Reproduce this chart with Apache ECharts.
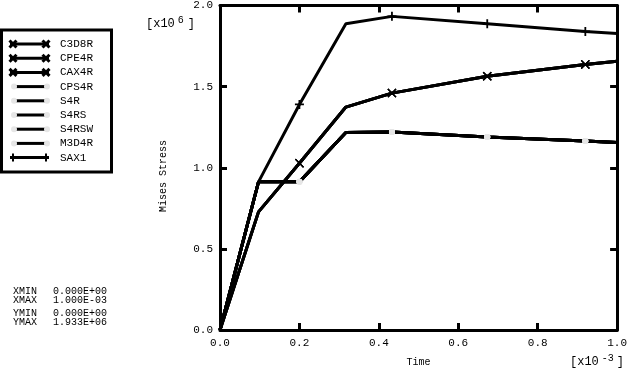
<!DOCTYPE html>
<html><head><meta charset="utf-8">
<script src="https://cdn.jsdelivr.net/npm/echarts@6/dist/echarts.min.js"></script>
<style>html,body{margin:0;padding:0;background:#fff}#c{width:630px;height:373px}</style>
</head><body><div id="c"></div>
<script>
// Time in units of 1e-3, stress in units of 1e6
var timeValues = [0, 0.097, 0.2, 0.317, 0.433, 0.673, 0.92, 1.0];
var sax1Values = [0, 0.913, 1.39, 1.887, 1.933, 1.887, 1.84, 1.827];
var c3d8rValues = [0, 0.728, 1.028, 1.374, 1.46, 1.564, 1.637, 1.657];
var cps4rValues = [0, 0.913, 0.913, 1.217, 1.22, 1.19, 1.165, 1.155];
var markerIndex = [2, 4, 5, 6];
var xGroupNames = ['C3D8R', 'CPE4R', 'CAX4R'];
var circleGroupNames = ['CPS4R', 'S4R', 'S4RS', 'S4RSW', 'M3D4R'];
var plusGroupNames = ['SAX1'];
var statLabels = ['XMIN', 'XMAX', 'YMIN', 'YMAX'];
var statValues = ['0.000E+00', '1.000E-03', '0.000E+00', '1.933E+06'];

var FONT = 'Liberation Mono';
var X_SYM = 'path://M0,1 L1,0 L5,4 L9,0 L10,1 L6,5 L10,9 L9,10 L5,6 L1,10 L0,9 L4,5 Z';
var PLUS_SYM = 'path://M4,0 L6,0 L6,4 L10,4 L10,6 L6,6 L6,10 L4,10 L4,6 L0,6 L0,4 L4,4 Z';

function pairs(vals) {
  return timeValues.map(function (t, i) { return [t, vals[i]]; });
}
function symFn(sym) {
  return function (v, p) { return markerIndex.indexOf(p.dataIndex) >= 0 ? sym : 'none'; };
}
var series = [];
circleGroupNames.forEach(function (n) {
  series.push({ name: n, type: 'line', data: pairs(cps4rValues), symbol: symFn('circle'), symbolSize: 6,
    showAllSymbol: true, lineStyle: { color: '#000', width: 3 }, itemStyle: { color: '#e6e6e6' }, animation: false });
});
xGroupNames.forEach(function (n) {
  series.push({ name: n, type: 'line', data: pairs(c3d8rValues), symbol: symFn(X_SYM), symbolSize: 9,
    showAllSymbol: true, lineStyle: { color: '#000', width: 3 }, itemStyle: { color: '#000' }, animation: false });
});
plusGroupNames.forEach(function (n) {
  series.push({ name: n, type: 'line', data: pairs(sax1Values), symbol: symFn(PLUS_SYM), symbolSize: 9,
    showAllSymbol: true, lineStyle: { color: '#000', width: 3 }, itemStyle: { color: '#000' }, animation: false });
});

// legend drawn as graphics
var legendNames = xGroupNames.concat(circleGroupNames, plusGroupNames);
var graphics = [];
graphics.push({ type: 'rect', shape: { x: 1.5, y: 30, width: 110, height: 142 }, style: { fill: '#fff', stroke: '#000', lineWidth: 3 }, z: 10 });
legendNames.forEach(function (n, i) {
  var y = 44 + i * 14.2;
  var kind = xGroupNames.indexOf(n) >= 0 ? 'x' : (plusGroupNames.indexOf(n) >= 0 ? 'plus' : 'circle');
  if (kind === 'circle') {
    graphics.push({ type: 'line', shape: { x1: 15, y1: y, x2: 45, y2: y }, style: { stroke: '#000', lineWidth: 3 }, z: 11 });
    graphics.push({ type: 'circle', shape: { cx: 14, cy: y, r: 3 }, style: { fill: '#e6e6e6' }, z: 11 });
    graphics.push({ type: 'circle', shape: { cx: 47, cy: y, r: 3 }, style: { fill: '#e6e6e6' }, z: 11 });
  } else {
    graphics.push({ type: 'line', shape: { x1: 10, y1: y, x2: 49, y2: y }, style: { stroke: '#000', lineWidth: 3 }, z: 11 });
    [13, 46].forEach(function (cx) {
      if (kind === 'x') {
        graphics.push({ type: 'line', shape: { x1: cx - 3.5, y1: y - 3.5, x2: cx + 3.5, y2: y + 3.5 }, style: { stroke: '#000', lineWidth: 3 }, z: 11 });
        graphics.push({ type: 'line', shape: { x1: cx - 3.5, y1: y + 3.5, x2: cx + 3.5, y2: y - 3.5 }, style: { stroke: '#000', lineWidth: 3 }, z: 11 });
      } else {
        graphics.push({ type: 'line', shape: { x1: cx, y1: y - 4, x2: cx, y2: y + 4 }, style: { stroke: '#000', lineWidth: 2 }, z: 11 });
      }
    });
  }
  graphics.push({ type: 'text', x: 60, y: y, style: { text: n, font: '11px "' + FONT + '"', fill: '#000', verticalAlign: 'middle' }, z: 11 });
});
statLabels.forEach(function (l, i) {
  var y = [291, 300, 313, 322][i];
  graphics.push({ type: 'text', x: 13, y: y, style: { text: l, font: '10px "' + FONT + '"', fill: '#000', verticalAlign: 'middle' } });
  graphics.push({ type: 'text', x: 53, y: y, style: { text: statValues[i], font: '10px "' + FONT + '"', fill: '#000', verticalAlign: 'middle' } });
});
graphics.push({ type: 'text', x: 146, y: 24, style: { text: '[x10{s|6}]', font: '12px "' + FONT + '"', fill: '#000', verticalAlign: 'middle',
  rich: { s: { fontSize: 10, fontFamily: FONT, verticalAlign: 'top', padding: [0, 4, 8, 3] } } } });
graphics.push({ type: 'text', x: 570, y: 362, style: { text: '[x10{s|-3}]', font: '12px "' + FONT + '"', fill: '#000', verticalAlign: 'middle',
  rich: { s: { fontSize: 10, fontFamily: FONT, verticalAlign: 'top', padding: [0, 3, 8, 3] } } } });
graphics.push({ type: 'text', x: 163, y: 176, rotation: Math.PI / 2, style: { text: 'Mises Stress', font: '10px "' + FONT + '"', fill: '#000', align: 'center', verticalAlign: 'middle' } });

var axisBase = {
  type: 'value', min: 0, splitLine: { show: false },
  axisLine: { show: true, onZero: false, lineStyle: { color: '#000', width: 3 } },
  axisTick: { show: true, inside: true, length: 7, lineStyle: { color: '#000', width: 3 } }
};
function ax(extra) { return Object.assign({}, axisBase, extra); }

var option = {
  backgroundColor: '#fff',
  animation: false,
  grid: { left: 220, top: 5, right: 10, bottom: 43 },
  xAxis: [
    ax({ max: 1, interval: 0.2, position: 'bottom', name: 'Time', nameLocation: 'middle', nameGap: 27,
      nameTextStyle: { fontFamily: FONT, fontSize: 10, color: '#000' },
      axisLabel: { margin: 8, fontFamily: FONT, fontSize: 11, color: '#000', formatter: function (v) { return v.toFixed(1); } } }),
    ax({ max: 1, interval: 0.2, position: 'top', axisLabel: { show: false } })
  ],
  yAxis: [
    ax({ max: 2, interval: 0.5, position: 'left',
      axisLabel: { margin: 7, fontFamily: FONT, fontSize: 11, color: '#000', formatter: function (v) { return v.toFixed(1); } } }),
    ax({ max: 2, interval: 0.5, position: 'right', axisLabel: { show: false } })
  ],
  graphic: graphics,
  series: series
};
var chart = echarts.init(document.getElementById('c'), null, { renderer: 'canvas' });
chart.setOption(option);
</script></body></html>
